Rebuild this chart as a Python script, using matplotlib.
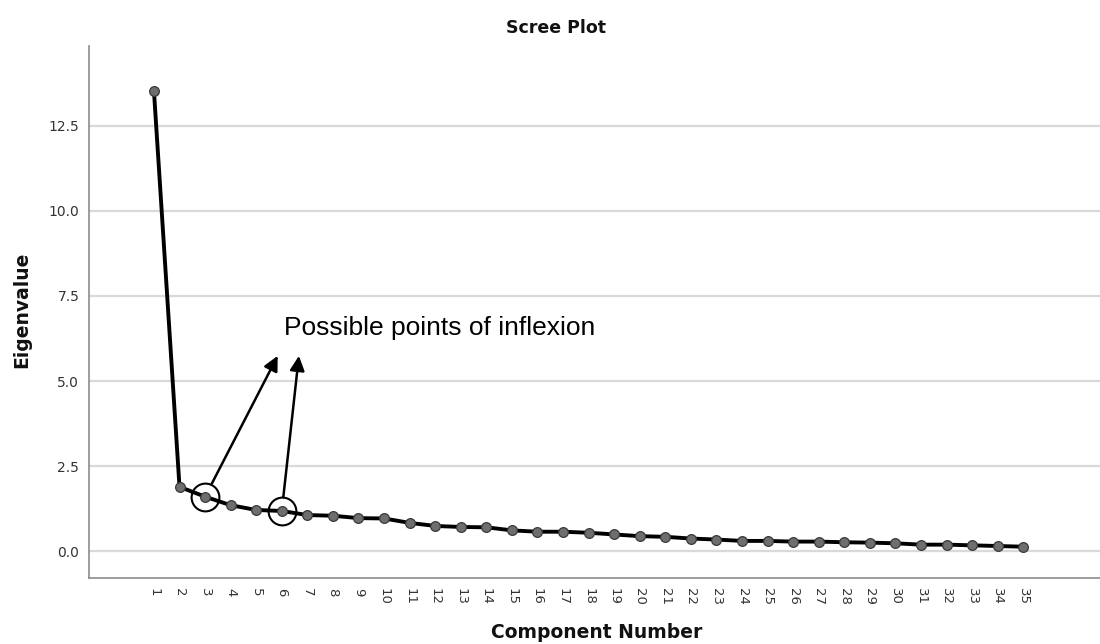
"""Scree plot of eigenvalues per component, with annotated points of inflexion."""

import matplotlib

matplotlib.use("Agg")
import matplotlib.pyplot as plt

components = list(range(1, 36))
eigenvalues = [
    13.53, 1.89, 1.60, 1.35, 1.21, 1.18, 1.06, 1.04, 0.97, 0.96,
    0.83, 0.74, 0.71, 0.70, 0.61, 0.57, 0.57, 0.54, 0.49, 0.44,
    0.42, 0.37, 0.34, 0.30, 0.30, 0.28, 0.28, 0.26, 0.25, 0.23,
    0.19, 0.19, 0.17, 0.15, 0.13,
]
y_ticks = [0.0, 2.5, 5.0, 7.5, 10.0, 12.5]
inflexion_points = [3, 6]
arrow_tips = [(5.84, 5.74), (6.67, 5.74)]
note_text = "Possible points of inflexion"
note_pos = (6.09, 6.55)


def main() -> None:
    fig = plt.figure(figsize=(11, 6.44), dpi=100)
    ax = fig.add_axes([0.0809, 0.1025, 0.9191, 0.8261])

    ax.plot(components, eigenvalues, color="black", linewidth=2.8, zorder=3,
            marker="o", markersize=7, markerfacecolor="#6e6e6e",
            markeredgecolor="#3a3a3a", markeredgewidth=0.9)

    ax.set_xlim(-1.54, 38.0)
    ax.set_ylim(-0.79, 14.85)
    ax.set_xticks(components)
    ax.set_xticklabels([str(c) for c in components], rotation=270)
    ax.set_yticks(y_ticks)
    ax.set_yticklabels([f"{v:.1f}" for v in y_ticks])
    ax.tick_params(axis="both", length=0, labelsize=10, labelcolor="#333333")
    ax.tick_params(axis="x", pad=7, labelsize=9.5)
    ax.tick_params(axis="y", pad=7)

    ax.grid(True, axis="y", color="#d9d9d9", linewidth=1.6)
    ax.set_axisbelow(True)
    for side in ("top", "right"):
        ax.spines[side].set_visible(False)
    for side in ("left", "bottom"):
        ax.spines[side].set_color("#8c8c8c")
        ax.spines[side].set_linewidth(1.2)

    # circles round the candidate elbows and arrows up to the note
    for comp, tip in zip(inflexion_points, arrow_tips):
        val = eigenvalues[components.index(comp)]
        ax.plot([comp], [val], marker="o", markersize=20, markerfacecolor="none",
                markeredgecolor="black", markeredgewidth=1.5, zorder=4)
        ax.annotate("", xy=tip, xytext=(comp, val),
                    arrowprops=dict(arrowstyle="-|>", color="black", lw=1.8,
                                    mutation_scale=22, shrinkA=10, shrinkB=0))

    ax.text(note_pos[0], note_pos[1], note_text, fontsize=19, family="Liberation Sans",
            va="center", ha="left", color="black")

    fig.text(556.5 / 1100, 1 - 28 / 644, "Scree Plot", ha="center", va="center",
             fontsize=12.5, fontweight="bold", color="#111111")
    fig.text(597 / 1100, 1 - 633 / 644, "Component Number", ha="center", va="center",
             fontsize=13.5, fontweight="bold", color="#111111")
    fig.text(22 / 1100, 1 - 310 / 644, "Eigenvalue", ha="center", va="center",
             rotation=90, fontsize=13.5, fontweight="bold", color="#111111")

    fig.savefig("out.png", dpi=100)
    plt.close(fig)


if __name__ == "__main__":
    main()
